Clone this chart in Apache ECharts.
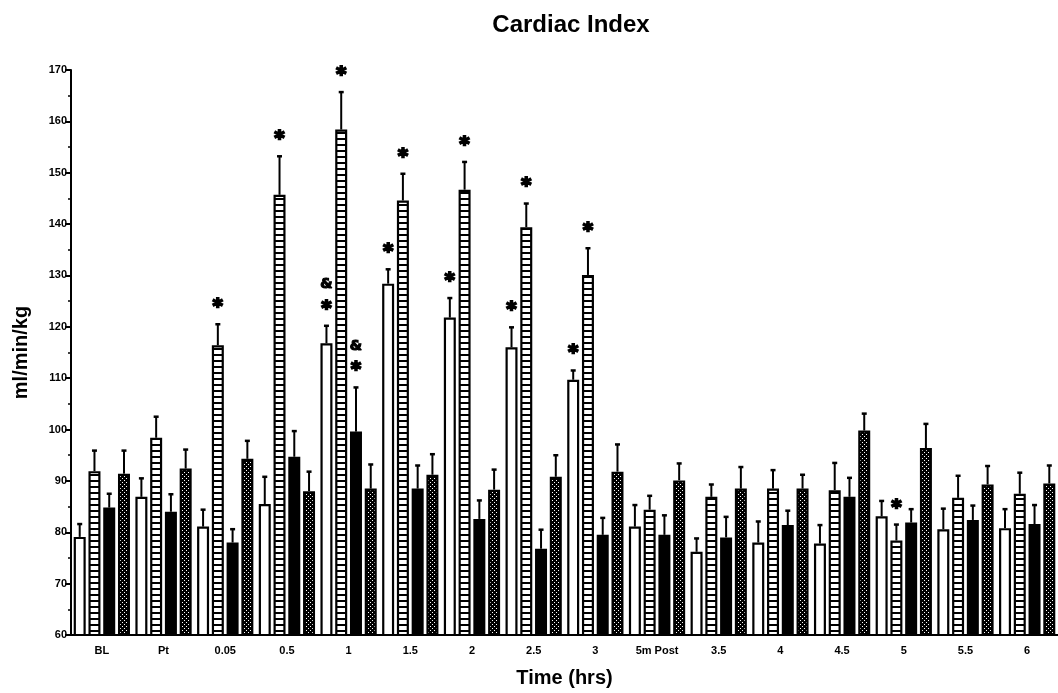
<!DOCTYPE html>
<html>
<head>
<meta charset="utf-8">
<script src="https://cdn.jsdelivr.net/npm/echarts@6/dist/echarts.min.js"></script>
<style>
html,body{margin:0;padding:0;background:#fff;}
#chart{width:1058px;height:693px;}
</style>
</head>
<body>
<div id="chart"></div>
<script>
// ---- data ----
const categories = ['BL','Pt','0.05','0.5','1','1.5','2','2.5','3','5m Post','3.5','4','4.5','5','5.5','6'];
const yTicks = [60,70,80,90,100,110,120,130,140,150,160,170];

const whiteVals  = [79.1, 86.9, 81.1, 85.5, 116.8, 128.4, 121.8, 116.0, 109.7, 81.1, 76.2, 78.0, 77.8, 83.1, 80.6, 80.8];
const whiteSE    = [2.5, 3.6, 3.3, 5.3, 3.4, 2.8, 3.8, 3.9, 1.8, 4.2, 2.6, 4.1, 3.6, 3.0, 4.0, 3.7];
const stripeVals = [91.9, 98.4, 116.4, 145.7, 158.4, 144.6, 146.7, 139.4, 130.1, 84.4, 86.9, 88.5, 88.2, 78.4, 86.7, 87.5];
const stripeSE   = [4.0, 4.1, 4.1, 7.5, 7.3, 5.2, 5.4, 4.6, 5.2, 2.7, 2.4, 3.6, 5.3, 3.1, 4.3, 4.1];
const blackVals  = [84.8, 84.0, 78.0, 94.7, 99.6, 88.5, 82.6, 76.8, 79.5, 79.5, 79.0, 81.4, 86.9, 81.9, 82.4, 81.6];
const blackSE    = [2.7, 3.4, 2.6, 5.0, 8.6, 4.5, 3.6, 3.7, 3.3, 3.8, 4.0, 2.8, 3.7, 2.6, 2.8, 3.7];
const dotVals    = [91.4, 92.4, 94.3, 88.0, 88.5, 91.2, 88.3, 90.8, 91.8, 90.1, 88.5, 88.5, 99.8, 96.4, 89.3, 89.5];
const dotSE      = [4.5, 3.7, 3.5, 3.8, 4.7, 4.0, 3.9, 4.2, 5.3, 3.3, 4.2, 2.7, 3.3, 4.7, 3.6, 3.5];

// significance marks: category, series index (0 white,1 stripes,2 black,3 dots), stack level, text
const markCat    = ['0.05','0.5','1','1','1','1','1','1.5','1.5','2','2','2.5','2.5','3','3','5'];
const markSeries = [1, 1, 0, 0, 1, 2, 2, 0, 1, 0, 1, 0, 1, 0, 1, 1];
const markLevel  = [0, 0, 0, 1, 0, 0, 1, 0, 0, 0, 0, 0, 0, 0, 0, 0];
const markText   = ['*','*','*','&','*','*','&','*','*','*','*','*','*','*','*','*'];

// ---- styles ----
function stripePattern(){
  const c=document.createElement('canvas'); c.width=6; c.height=6;
  const g=c.getContext('2d'); g.fillStyle='#fff'; g.fillRect(0,0,6,6);
  g.fillStyle='#000'; g.fillRect(0,0,6,2); return c;
}
function dotPattern(){
  const c=document.createElement('canvas'); c.width=4; c.height=4;
  const g=c.getContext('2d'); g.fillStyle='#000'; g.fillRect(0,0,4,4);
  g.fillStyle='#fff'; g.fillRect(0,0,1,1); g.fillRect(2,2,1,1); return c;
}
const BAR_W = 12, GAP = 0.23;
const STEP = BAR_W*(1+GAP);
const offsets = [-1.5*STEP, -0.5*STEP, 0.5*STEP, 1.5*STEP];
const fills = ['#fff', {image: stripePattern(), repeat:'repeat'}, '#000', {image: dotPattern(), repeat:'repeat'}];
const vals = [whiteVals, stripeVals, blackVals, dotVals];
const ses = [whiteSE, stripeSE, blackSE, dotSE];
const FONT = '"Liberation Sans", Arial, sans-serif';

const series = [];
vals.forEach((v,k)=>{
  series.push({
    type:'bar', data:v, barWidth:BAR_W, barGap:(GAP*100)+'%',
    itemStyle:{color:fills[k], borderColor:'#000', borderWidth:2.2},
    silent:true, z:2
  });
});
vals.forEach((v,k)=>{
  series.push({
    type:'custom', z:3, silent:true,
    data: v.map((val,i)=>[i, val, val+ses[k][i]]),
    renderItem:function(params, api){
      const p0 = api.coord([api.value(0), api.value(1)]);
      const p1 = api.coord([api.value(0), api.value(2)]);
      const cx = p0[0] + offsets[k];
      return {type:'group', children:[
        {type:'line', shape:{x1:cx,y1:p0[1],x2:cx,y2:p1[1]}, style:{stroke:'#000', lineWidth:2}},
        {type:'line', shape:{x1:cx-2.5,y1:p1[1],x2:cx+2.5,y2:p1[1]}, style:{stroke:'#000', lineWidth:2.5}}
      ]};
    }
  });
});
series.push({
  type:'custom', z:4, silent:true,
  data: markCat.map((c,j)=>{
    const i = categories.indexOf(c); const k = markSeries[j];
    return [i, vals[k][i] + ses[k][i], k, markLevel[j], markText[j]];
  }),
  renderItem:function(params, api){
    const i = api.value(0), top = api.value(1), k = api.value(2), lvl = api.value(3);
    const p = api.coord([i, top]);
    const cx = p[0] + offsets[k];
    const cy = p[1] - 22 - lvl*19;
    const txt = markText[params.dataIndex];
    const isStar = txt === '*';
    return {type:'text', x: cx, y: cy + (isStar ? 5 : 0),
      style:{text: txt, fill:'#000', stroke:'#000', lineWidth: isStar ? 2 : 1.2,
        font: isStar ? 'bold 19px "DejaVu Sans"' : 'bold 14px "DejaVu Sans"',
        align:'center', verticalAlign:'middle'}};
  }
});

const chart = echarts.init(document.getElementById('chart'), null, {renderer:'canvas'});
chart.setOption({
  animation:false,
  backgroundColor:'#fff',
  title:{text:'Cardiac Index', left:566, top:8, textAlign:'center',
    textStyle:{fontFamily:FONT, fontWeight:'bold', fontSize:24, color:'#000'}},
  grid:{left:71, top:70, width:987, height:567, containLabel:false},
  xAxis:{type:'category', data:categories,
    name:'Time (hrs)', nameLocation:'middle', nameGap:33,
    nameTextStyle:{fontFamily:FONT, fontWeight:'bold', fontSize:20, color:'#000'},
    axisLine:{lineStyle:{color:'#000', width:2}},
    axisTick:{show:false},
    axisLabel:{interval:0, margin:10, fontFamily:FONT, fontWeight:'bold', fontSize:11, color:'#000'}},
  yAxis:{type:'value', min:yTicks[0], max:yTicks[yTicks.length-1], interval:10,
    name:'ml/min/kg', nameLocation:'middle', nameGap:40,
    nameTextStyle:{fontFamily:FONT, fontWeight:'bold', fontSize:20, color:'#000'},
    axisLine:{show:true, lineStyle:{color:'#000', width:2}},
    axisTick:{show:true, length:6, lineStyle:{color:'#000', width:2}},
    minorTick:{show:true, splitNumber:2, length:3, lineStyle:{color:'#000', width:1.5}},
    splitLine:{show:false},
    axisLabel:{margin:4, fontFamily:FONT, fontWeight:'bold', fontSize:11, color:'#000'}},
  series:series
});
</script>
</body>
</html>
